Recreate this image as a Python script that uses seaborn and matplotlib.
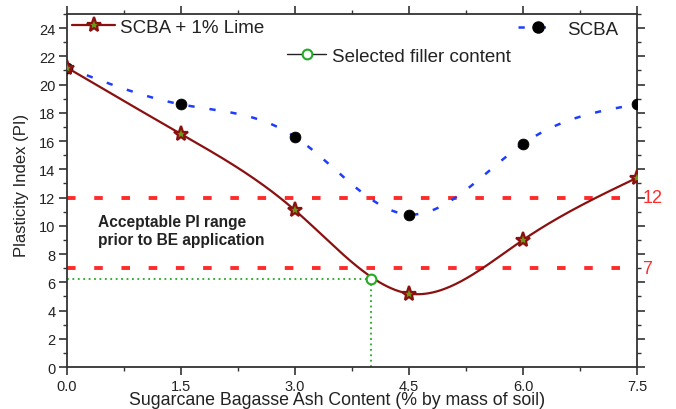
import numpy as np
import pandas as pd
import matplotlib
matplotlib.use("Agg")
import matplotlib.pyplot as plt
import seaborn as sns
from matplotlib.lines import Line2D
from matplotlib.ticker import MultipleLocator

# ---- data ----
ash_content = [0.0, 1.5, 3.0, 4.5, 6.0, 7.5]
pi_scba_lime = [21.2, 16.5, 11.1, 5.2, 9.0, 13.4]
pi_scba = [21.2, 18.6, 16.3, 10.8, 15.8, 18.6]
selected_x = [4.0]
selected_pi = [6.2]
pi_limits = [12, 7]
limit_labels = ["12", "7"]
xticks = [0.0, 1.5, 3.0, 4.5, 6.0, 7.5]
yticks = list(range(0, 25, 2))


def natural_spline(x, y, xs):
    x = np.asarray(x, float); y = np.asarray(y, float)
    n = len(x); h = np.diff(x)
    A = np.zeros((n, n)); b = np.zeros(n)
    A[0, 0] = A[-1, -1] = 1
    for i in range(1, n - 1):
        A[i, i - 1] = h[i - 1]; A[i, i] = 2 * (h[i - 1] + h[i]); A[i, i + 1] = h[i]
        b[i] = 3 * ((y[i + 1] - y[i]) / h[i] - (y[i] - y[i - 1]) / h[i - 1])
    c = np.linalg.solve(A, b)
    out = np.empty_like(xs)
    for k, xv in enumerate(xs):
        i = min(max(np.searchsorted(x, xv) - 1, 0), n - 2)
        dx = xv - x[i]
        bi = (y[i + 1] - y[i]) / h[i] - h[i] * (2 * c[i] + c[i + 1]) / 3
        di = (c[i + 1] - c[i]) / (3 * h[i])
        out[k] = y[i] + bi * dx + c[i] * dx ** 2 + di * dx ** 3
    return out


sns.set_theme(style="ticks")
plt.rcParams['font.family'] = ['Liberation Sans', 'DejaVu Sans']

fig = plt.figure(figsize=(6.76, 4.10), dpi=100)
ax = fig.add_axes([0.0991, 0.1024, 0.8432, 0.8610])

xs = np.linspace(0, 7.5, 300)
df_lime = pd.DataFrame({"x": xs, "y": natural_spline(ash_content, pi_scba_lime, xs)})
df_scba = pd.DataFrame({"x": xs, "y": natural_spline(ash_content, pi_scba, xs)})

RED = "#ff2b2b"
# limit lines
for v, lab in zip(pi_limits, limit_labels):
    ax.axhline(v, color=RED, lw=2.8, dashes=(2.2, 4.8), zorder=1)
    ax.text(7.57, v, lab, color=RED, fontsize=13, va="center", ha="left",
            clip_on=False)

# selected filler guide lines
ax.plot([0, selected_x[0]], [selected_pi[0], selected_pi[0]], color="#22aa22",
        lw=1.3, ls=(0, (1, 2)), zorder=2)
ax.plot([selected_x[0], selected_x[0]], [0, selected_pi[0]], color="#22aa22",
        lw=1.3, ls=(0, (1, 2)), zorder=2)

sns.lineplot(data=df_scba, x="x", y="y", ax=ax, color="#1f3dff", lw=1.8,
             dashes=False, zorder=3)
ax.lines[-1].set_dashes((2.5, 6))
sns.scatterplot(x=ash_content, y=pi_scba, ax=ax, color="black", s=60,
                edgecolor="black", zorder=4)

sns.lineplot(data=df_lime, x="x", y="y", ax=ax, color="#8b1010", lw=1.6, zorder=5)
ax.plot(ash_content, pi_scba_lime, ls="none", marker="*", ms=11,
        mfc="#6a9a10", mec="#8b1010", mew=1.6, zorder=6)

ax.plot(selected_x, selected_pi, ls="none", marker="o", ms=7, mfc="white",
        mec="#22aa22", mew=1.5, zorder=7)

ax.text(0.41, 10.3, "Acceptable PI range", fontsize=11.2, fontweight="bold",
        va="center", color="#222222")
ax.text(0.41, 9.0, "prior to BE application", fontsize=11.2, fontweight="bold",
        va="center", color="#222222")

ax.set_xlim(0, 7.5)
ax.set_ylim(0, 25)
ax.set_xticks(xticks)
ax.set_xticklabels([f"{t:.1f}" for t in xticks])
ax.set_yticks(yticks)
ax.xaxis.set_minor_locator(MultipleLocator(0.75))
ax.yaxis.set_minor_locator(MultipleLocator(1))
ax.tick_params(which="both", direction="out", top=True, right=True,
               labeltop=False, labelright=False, color="#333333", labelsize=10.5,
               pad=2.5, labelcolor="#222222")
ax.tick_params(which="major", length=5.8, width=1.2)
ax.tick_params(which="minor", length=3, width=1.0)
for s in ax.spines.values():
    s.set_visible(True)
    s.set_color("#333333")
    s.set_linewidth(1.3)

ax.set_xlabel("Sugarcane Bagasse Ash Content (% by mass of soil)", fontsize=12.8,
              color="#222222")
ax.xaxis.set_label_coords(0.4746, -0.068)
ax.set_ylabel("Plasticity Index (PI)", fontsize=12, color="#222222")
ax.yaxis.set_label_coords(-0.066, 0.517)

h1 = Line2D([], [], color="#8b1010", lw=1.6, marker="*", ms=11, mfc="#6a9a10",
            mec="#8b1010", mew=1.6)
h2 = Line2D([], [], color="#1f3dff", lw=1.8, dashes=(2.5, 6), marker="o", ms=8,
            mfc="black", mec="black")
h3 = Line2D([], [], color="#222222", lw=1.0, marker="o", ms=7, mfc="white",
            mec="#22aa22", mew=1.5)

LFS = 13.5
common = dict(frameon=False, fontsize=LFS, loc="center left", borderaxespad=0,
              borderpad=0, labelcolor="#222222")
leg1 = ax.legend([h1], ["SCBA + 1% Lime"], bbox_to_anchor=(0.009, 0.963),
                 handlelength=2.3, handletextpad=0.28, **common)
ax.add_artist(leg1)
leg2 = ax.legend([h2], ["SCBA"], bbox_to_anchor=(0.791, 0.957),
                 handlelength=2.1, handletextpad=0.5, **common)
ax.add_artist(leg2)
leg3 = ax.legend([h3], ["Selected filler content"], bbox_to_anchor=(0.386, 0.881),
                 handlelength=2.1, handletextpad=0.32, **common)

fig.savefig("out.png", dpi=100)
